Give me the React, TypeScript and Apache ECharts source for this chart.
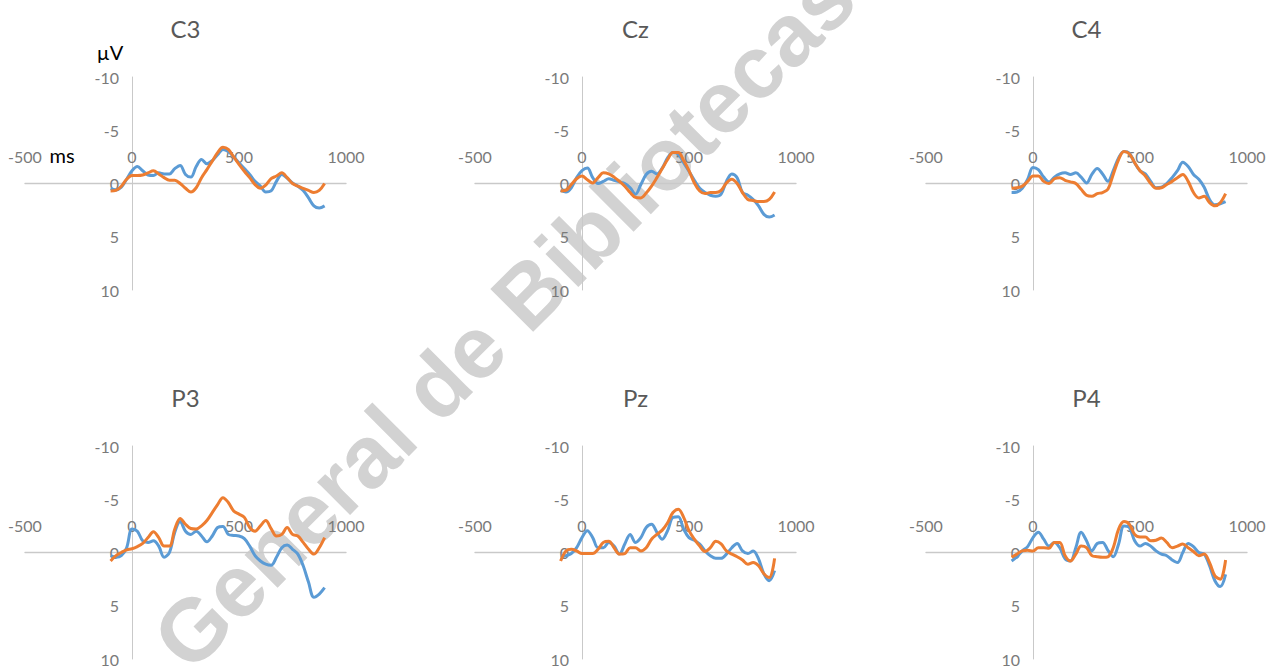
import React, { useEffect, useRef } from "react";
import * as echarts from "echarts";

// Sample times (ms) shared by every waveform
const TIMES = [
  -100, -75, -50, -25, 0, 25, 50, 75, 100, 125, 150, 175, 200, 225, 250, 275, 300,
  325, 350, 375, 400, 425, 450, 475, 500, 525, 550, 575, 600, 625, 650, 675, 700,
  725, 750, 775, 800, 825, 850, 875, 900,
];

// Electrode names, in panel order
const ELECTRODES = ["C3", "Cz", "C4", "P3", "Pz", "P4"];

// Axis ticks
const X_TICKS = [-500, 0, 500, 1000];
const Y_TICKS = [-10, -5, 0, 5, 10];

// Amplitudes (µV) — condition 1 (blue)
const C3_COND1 = [0.47, 0.6, 0.35, -0.4, -1.2, -1.6, -1.2, -0.8, -0.75, -1.0, -0.9, -0.9, -1.4, -1.7, -0.85, -0.6, -1.6, -2.25, -1.85, -2.15, -2.7, -3.2, -3.0, -2.5, -1.95, -1.4, -0.85, -0.2, 0.25, 0.8, 0.7, -0.2, -0.85, -0.5, -0.05, 0.25, 0.65, 1.35, 2.1, 2.3, 2.1];
const CZ_COND1 = [0.65, 0.8, 0.4, -0.55, -1.2, -1.45, -0.55, 0, -0.2, -0.45, -0.3, -0.15, 0, 0.4, 1.0, 0.1, -0.85, -1.15, -0.9, -1.45, -2.4, -2.9, -2.75, -1.95, -1.15, -0.3, 0.45, 0.85, 1.1, 1.2, 1.0, -0.2, -0.9, -0.55, 0.85, 1.1, 1.5, 2.1, 2.9, 3.15, 2.95];
const C4_COND1 = [0.85, 0.8, 0.45, -0.4, -1.5, -1.3, -0.6, -0.15, -0.6, -0.9, -1.0, -0.85, -1.0, -0.6, -0.05, -0.85, -1.4, -0.9, -0.2, -1.2, -2.4, -3.0, -2.85, -1.95, -1.2, -0.9, -0.2, 0.4, 0.35, 0, -0.55, -1.2, -2.0, -1.6, -0.85, -0.4, 0.35, 1.5, 2.0, 1.9, 1.7];
const P3_COND1 = [0.3, 0.45, 0.3, -0.45, -2.2, -2.0, -1.1, -0.95, -1.1, -0.6, 0.45, 0, -1.9, -2.9, -2.0, -1.7, -2.0, -1.55, -1.0, -1.55, -2.35, -2.45, -1.7, -1.6, -1.55, -1.3, -0.6, 0.3, 0.8, 1.1, 1.2, 0.45, -0.45, -0.7, -0.3, 0.15, 1.25, 2.8, 4.2, 3.9, 3.3];
const PZ_COND1 = [0.45, 0.3, 0.1, -0.45, -1.4, -2.05, -1.4, -0.45, -0.45, -0.95, -0.6, 0.15, -0.8, -1.7, -0.95, -1.4, -2.35, -2.65, -1.9, -1.25, -2.05, -3.3, -3.35, -2.2, -1.4, -1.15, -0.8, -0.15, 0.3, 0.55, 0.55, 0.15, -0.45, -0.85, -0.15, 0.1, -0.15, 0.6, 2.0, 2.65, 1.7];
const P4_COND1 = [0.8, 0.4, -0.15, -0.55, -1.4, -1.9, -1.25, -0.6, -0.95, -0.45, 0.6, 0.8, -0.45, -1.9, -1.1, -0.15, -0.85, -0.95, -0.2, 0.4, -0.8, -2.5, -2.35, -1.1, -0.6, -0.85, -0.6, -0.15, 0.15, 0.3, 0.7, 0.95, 0, -0.85, -0.55, 0, 0.15, 1.25, 2.65, 3.2, 2.05];

// Amplitudes (µV) — condition 2 (orange)
const C3_COND2 = [0.7, 0.65, 0.25, -0.4, -0.75, -0.75, -0.8, -1.0, -1.2, -0.9, -0.55, -0.3, -0.3, 0, 0.45, 0.8, 0.4, -0.55, -1.3, -2.1, -2.9, -3.4, -3.2, -2.5, -1.8, -1.15, -0.55, 0.1, 0.45, 0.15, -0.45, -0.7, -1.0, -0.55, 0, 0.25, 0.45, 0.65, 0.85, 0.65, 0];
const CZ_COND2 = [0.7, 0.65, 0.1, -0.45, -0.7, -0.35, -0.05, -0.55, -1.0, -0.9, -0.6, -0.2, 0.25, 0.85, 1.3, 1.35, 0.9, 0.25, -0.55, -1.4, -2.25, -2.9, -2.9, -2.15, -1.2, -0.05, 0.7, 0.95, 0.85, 0.85, 0.65, -0.05, -0.4, 0, 0.85, 1.5, 1.6, 1.7, 1.7, 1.5, 0.8];
const C4_COND2 = [0.45, 0.4, 0.25, -0.2, -0.7, -0.7, -0.2, 0, -0.45, -0.55, -0.3, -0.15, 0, 0.55, 1.1, 1.2, 0.95, 0.85, 0.55, -0.85, -2.25, -3.0, -2.8, -1.95, -1.2, -0.7, 0, 0.45, 0.4, 0.1, -0.2, -0.55, -0.85, -0.2, 0.85, 1.35, 1.2, 1.8, 2.1, 1.8, 0.95];
const P3_COND2 = [0.8, 0.3, 0, -0.25, -0.35, -0.55, -0.85, -1.4, -1.95, -1.4, -0.6, -0.6, -2.2, -3.2, -2.65, -2.25, -2.2, -2.5, -3.0, -3.75, -4.5, -5.15, -4.7, -3.9, -3.6, -3.3, -2.35, -2.0, -2.5, -3.0, -2.25, -1.55, -1.7, -2.35, -1.7, -1.55, -0.95, -0.3, 0.15, -0.45, -1.4];
const PZ_COND2 = [0.8, -0.15, -0.3, -0.15, 0.1, 0.1, 0.1, -0.3, -0.95, -1.05, -0.45, 0.15, 0.1, -0.45, -0.45, -0.15, -0.45, -1.25, -1.7, -2.1, -2.8, -3.75, -4.05, -3.3, -2.05, -1.25, -0.6, -0.1, -0.45, -1.05, -0.8, -0.15, 0.15, 0.4, 0.7, 1.1, 0.95, 1.25, 2.0, 2.35, 0.55];
const P4_COND2 = [0.45, 0.15, -0.15, -0.2, -0.15, -0.45, -0.45, -0.4, -0.95, -0.95, 0.3, 0.8, 0.15, -0.6, -0.45, 0.3, 0.4, 0.45, 0.4, -0.45, -2.2, -2.9, -2.65, -1.7, -1.45, -1.45, -1.1, -1.15, -1.35, -0.95, -0.45, -0.6, -0.8, -0.45, -0.1, 0.3, 0.15, 0.95, 2.2, 2.5, 0.7];

const COND1 = [C3_COND1, CZ_COND1, C4_COND1, P3_COND1, PZ_COND1, P4_COND1];
const COND2 = [C3_COND2, CZ_COND2, C4_COND2, P3_COND2, PZ_COND2, P4_COND2];

// Panel placement (px)
const COL_LEFT = [25, 475, 926];
const ROW_TOP = [77, 446];
const PANEL_W = 321;
const PANEL_H = 213;

const BLUE = "#5b9bd5";
const ORANGE = "#ed7d31";
const AXIS_GRAY = "#c9c9c9";
const LABEL_GRAY = "#7a7a7a";
const FONT = "Lato, 'Open Sans', sans-serif";

export default function App() {
  const ref = useRef<HTMLDivElement>(null);

  useEffect(() => {
    if (!ref.current) return;
    const chart = echarts.init(ref.current, undefined, { renderer: "svg" });

    const xMin = X_TICKS[0];
    const xMax = X_TICKS[X_TICKS.length - 1];
    const yMin = Y_TICKS[0];
    const yMax = Y_TICKS[Y_TICKS.length - 1];
    // distance from the grid edge to the crossing point of the two axes
    const xShift = (PANEL_W * (0 - xMin)) / (xMax - xMin);
    const yShift = (PANEL_H * (yMax - 0)) / (yMax - yMin);

    const grids: any[] = [];
    const xAxes: any[] = [];
    const yAxes: any[] = [];
    const series: any[] = [];
    const graphics: any[] = [];

    ELECTRODES.forEach((name, i) => {
      const left = COL_LEFT[i % 3];
      const top = ROW_TOP[Math.floor(i / 3)];
      grids.push({ left, top, width: PANEL_W, height: PANEL_H, outerBoundsMode: "none" });
      xAxes.push({
        type: "value",
        gridIndex: i,
        min: xMin,
        max: xMax,
        interval: 500,
        position: "bottom",
        offset: -yShift,
        axisLine: { show: true, onZero: false, lineStyle: { color: AXIS_GRAY, width: 1.3 } },
        axisTick: { show: false },
        splitLine: { show: false },
        axisLabel: {
          inside: true,
          margin: 19,
          color: LABEL_GRAY,
          fontSize: 16,
          fontFamily: FONT,
          formatter: (v: number) => String(v),
        },
      });
      yAxes.push({
        type: "value",
        gridIndex: i,
        inverse: true,
        min: yMin,
        max: yMax,
        interval: 5,
        position: "left",
        offset: -xShift,
        axisLine: { show: true, onZero: false, lineStyle: { color: AXIS_GRAY, width: 1 } },
        axisTick: { show: false },
        splitLine: { show: false },
        axisLabel: {
          margin: 13,
          color: LABEL_GRAY,
          fontSize: 16,
          fontFamily: FONT,
        },
      });
      [COND1[i], COND2[i]].forEach((vals, k) => {
        series.push({
          type: "line",
          name: name + (k === 0 ? " A" : " B"),
          xAxisIndex: i,
          yAxisIndex: i,
          data: TIMES.map((t, j) => [t, vals[j]]),
          showSymbol: false,
          smooth: 0.35,
          lineStyle: { color: k === 0 ? BLUE : ORANGE, width: 3 },
          itemStyle: { color: k === 0 ? BLUE : ORANGE },
          z: 3 + k,
        });
      });
      graphics.push({
        type: "text",
        x: left + PANEL_W / 2,
        y: top - 49,
        style: {
          text: name,
          fontSize: 24,
          fontFamily: FONT,
          fill: "#595959",
          align: "center",
          verticalAlign: "middle",
        },
      });
    });

    // unit labels on the first panel
    graphics.push({
      type: "text",
      x: 110,
      y: 52,
      style: { text: "µV", fontSize: 20, fontFamily: FONT, fill: "#000", align: "center", verticalAlign: "middle" },
    });
    graphics.push({
      type: "text",
      x: 62,
      y: 155,
      style: { text: "ms", fontSize: 20, fontFamily: FONT, fill: "#000", align: "center", verticalAlign: "middle" },
    });

    // library stamp across the page
    graphics.push({
      type: "text",
      x: 504,
      y: 318,
      rotation: Math.PI / 4,
      z: -10,
      style: {
        text: "General de Bibliotecas",
        fontSize: 88,
        fontWeight: "bold",
        fontFamily: "'Liberation Sans', Arial, sans-serif",
        fill: "#d2d2d2",
        align: "center",
        verticalAlign: "middle",
      },
    });

    chart.setOption({
      animation: false,
      backgroundColor: "#ffffff",
      grid: grids,
      xAxis: xAxes,
      yAxis: yAxes,
      series,
      graphic: graphics,
    });

    return () => chart.dispose();
  }, []);

  return (
    <div
      ref={ref}
      style={{ position: "absolute", left: 0, top: 0, width: 1267, height: 668 }}
    />
  );
}
